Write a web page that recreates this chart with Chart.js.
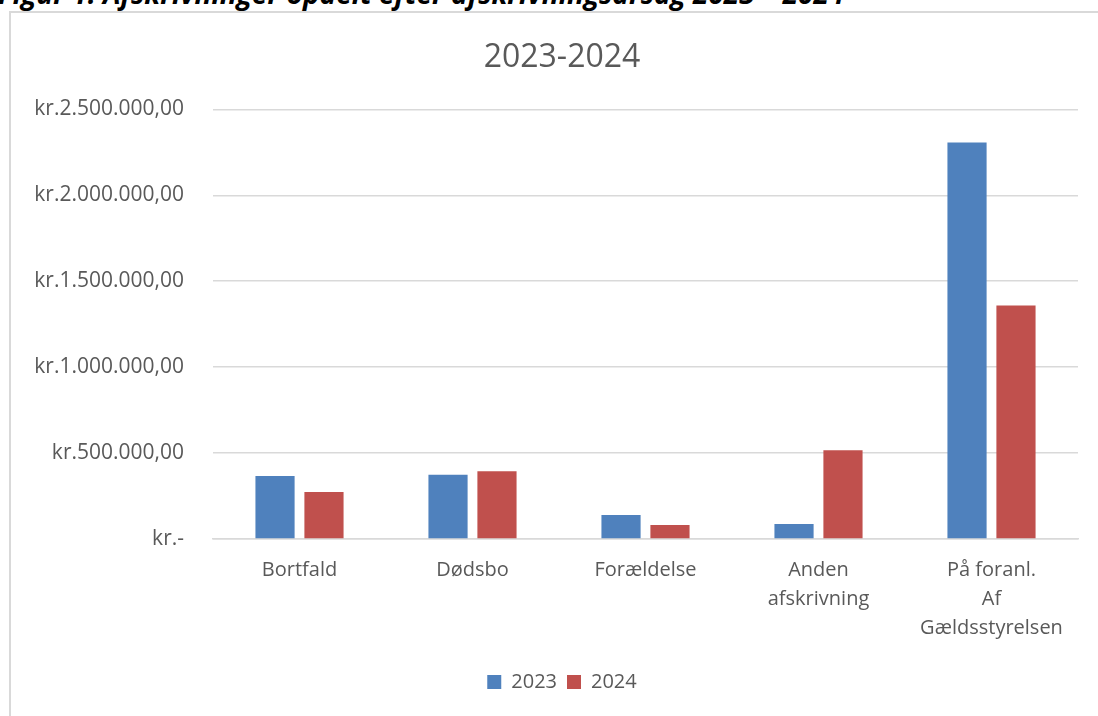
<!DOCTYPE html>
<html>
<head>
<meta charset="utf-8">
<script src="https://cdn.jsdelivr.net/npm/chart.js@4"></script>
<style>
  html, body { margin: 0; padding: 0; background: #fff; overflow: hidden; }
  body { width: 1098px; height: 716px; position: relative; }
  #heading {
    position: absolute; left: -2px; top: -21px; white-space: nowrap;
    font: italic bold 28px "Open Sans", sans-serif; line-height: 28px; color: #000;
  }
  #frame {
    position: absolute; left: 9px; top: 11px; width: 1200px; height: 800px;
    border-left: 2px solid #d9d9d9; border-top: 2px solid #d9d9d9;
  }
  #chart { position: absolute; left: 0; top: 0; }
</style>
</head>
<body>
<div id="heading">Figur 1: Afskrivninger opdelt efter afskrivningsårsag 2023 – 2024</div>
<div id="frame"></div>
<canvas id="chart" width="1098" height="716"></canvas>
<script>
  // --- Data ---
  const categories = ["Bortfald", "Dødsbo", "Forældelse", ["Anden", "afskrivning"], ["På foranl.", "Af", "Gældsstyrelsen"]];
  const values2023 = [366000, 374000, 140000, 87000, 2308000];
  const values2024 = [273000, 394000, 81000, 517000, 1359000];
  const seriesNames = ["2023", "2024"];
  const yMax = 2500000;
  const yStep = 500000;

  const textColor = "#595959";
  const gridColor = "#d9d9d9";
  const padLeft = 46; // shifts title + legend to the frame's centre

  // Danish currency style: kr.2.500.000,00 and kr.- for zero
  function formatKr(value) {
    if (value === 0) return "kr.-";
    const whole = Math.round(value).toString().replace(/\B(?=(\d{3})+(?!\d))/g, ".");
    return "kr." + whole + ",00";
  }

  // let the long y tick labels spill into the left padding instead of being clipped
  const unclipY = {
    id: "unclipY",
    afterLayout(chart) {
      chart.scales.y.left = 0;
    },
  };

  new Chart(document.getElementById("chart"), {
    type: "bar",
    data: {
      labels: categories,
      datasets: [
        {
          label: seriesNames[0],
          data: values2023,
          backgroundColor: "#4f81bd",
          categoryPercentage: 0.566,
          barPercentage: 0.8,
        },
        {
          label: seriesNames[1],
          data: values2024,
          backgroundColor: "#c0504d",
          categoryPercentage: 0.566,
          barPercentage: 0.8,
        },
      ],
    },
    plugins: [unclipY],
    options: {
      responsive: false,
      animation: false,
      layout: { padding: { top: 39, right: 20, bottom: 14, left: padLeft } },
      plugins: {
        title: {
          display: true,
          text: "2023-2024",
          color: textColor,
          font: { family: "'Open Sans'", size: 32, weight: "normal" },
          padding: { top: 0, bottom: 32 },
        },
        legend: {
          position: "bottom",
          labels: {
            color: textColor,
            font: { family: "'Open Sans'", size: 20 },
            boxWidth: 14,
            boxHeight: 14,
            padding: 10,
          },
        },
        tooltip: { enabled: false },
      },
      scales: {
        x: {
          grid: { display: false, drawTicks: false },
          border: { display: true, color: gridColor, width: 1.5 },
          ticks: {
            color: textColor,
            font: { family: "'Open Sans'", size: 20, lineHeight: 1.45 },
            padding: 17,
            maxRotation: 0,
            autoSkip: false,
          },
          afterFit: (scale) => { scale.height = 123; },
        },
        y: {
          min: 0,
          max: yMax,
          grid: { color: gridColor, lineWidth: 1.5, drawTicks: false },
          border: { display: false },
          ticks: {
            stepSize: yStep,
            color: textColor,
            font: { family: "'Open Sans'", size: 21 },
            padding: 29,
            callback: (v) => formatKr(v),
          },
          afterFit: (scale) => { scale.width = 213 - padLeft; },
        },
      },
    },
  });
</script>
</body>
</html>
